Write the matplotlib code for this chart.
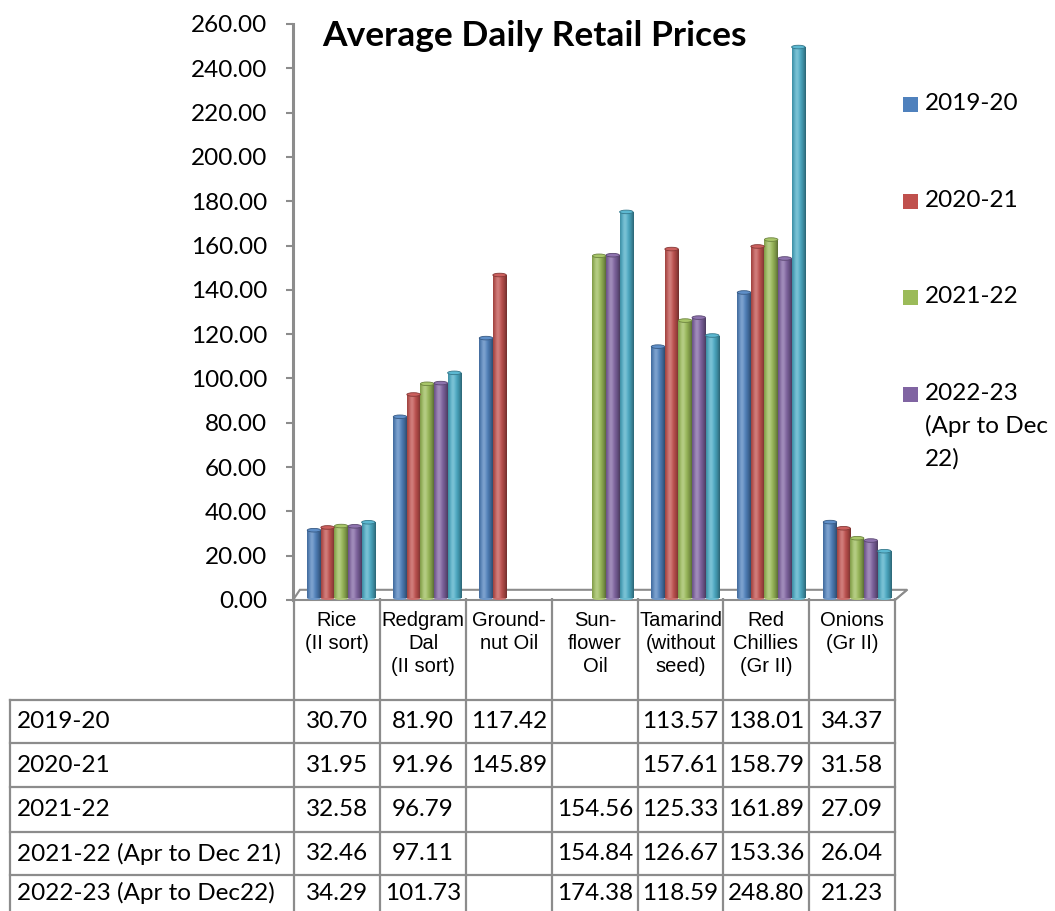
import numpy as np
import matplotlib
matplotlib.use("Agg")
import matplotlib.pyplot as plt
from matplotlib.patches import Rectangle, Ellipse, Polygon
from matplotlib.colors import to_rgb

# ---------------- data ----------------
categories = ["Rice\n(II sort)", "Redgram\nDal\n(II sort)", "Ground-\nnut Oil",
              "Sun-\nflower\nOil", "Tamarind\n(without\nseed)", "Red\nChillies\n(Gr II)",
              "Onions\n(Gr II)"]
series_names = ["2019-20", "2020-21", "2021-22", "2021-22 (Apr to Dec 21)",
                "2022-23 (Apr to Dec22)"]
s2019 = [30.70, 81.90, 117.42, None, 113.57, 138.01, 34.37]
s2020 = [31.95, 91.96, 145.89, None, 157.61, 158.79, 31.58]
s2021 = [32.58, 96.79, None, 154.56, 125.33, 161.89, 27.09]
s2021_apr = [32.46, 97.11, None, 154.84, 126.67, 153.36, 26.04]
s2022_apr = [34.29, 101.73, None, 174.38, 118.59, 248.80, 21.23]
series = [s2019, s2020, s2021, s2021_apr, s2022_apr]
colors = ["#4F81BD", "#C0504D", "#9BBB59", "#8064A2", "#4BACC6"]
legend_labels = ["2019-20", "2020-21", "2021-22", "2022-23\n(Apr to Dec\n22)"]
yticks = np.arange(0, 261, 20)

FONT = ["Lato", "DejaVu Sans"]
NARROW = ["Liberation Sans Narrow", "Liberation Sans", "DejaVu Sans"]

W, H = 1055, 911
fig = plt.figure(figsize=(W / 100, H / 100), dpi=100)
fig.patch.set_facecolor("white")

# main chart axes (pixel geometry)
x_left, x_right, y_top, y_zero = 293, 895, 24, 600
ax = fig.add_axes([x_left / W, (H - y_zero) / H, (x_right - x_left) / W, (y_zero - y_top) / H])
ax.set_facecolor("none")

n = len(categories)
x = np.arange(n)
bw = 0.158
offset = 0.06
px_per_unit = (y_zero - y_top) / 260.0


def cyl_cmap(c):
    base = np.array(to_rgb(c))
    t = np.linspace(0, 1, 64)
    prof = np.exp(-((t - 0.35) / 0.2) ** 2)
    edge = np.clip(1 - ((t - 0.4) / 0.6) ** 2, 0, 1)
    cols = []
    for p, e in zip(prof, edge):
        col = base * (0.58 + 0.42 * e)
        col = col + (1 - col) * 0.26 * p
        cols.append(np.clip(col, 0, 1))
    return np.array(cols)


# floor
floor = Polygon([(-0.5, 0), (6.5, 0), (6.64, 4.6), (-0.42, 4.6)], closed=True,
                facecolor="white", edgecolor="#8c8c8c", lw=1.5, zorder=1, clip_on=False)
ax.add_patch(floor)

for i, (vals, c) in enumerate(zip(series, colors)):
    grad = cyl_cmap(c)[None, :, :]
    top_col = np.clip(np.array(to_rgb(c)) * 0.95 + 0.08, 0, 1)
    for j, v in enumerate(vals):
        if v is None:
            continue
        xc = x[j] + offset + (i - 2) * bw
        bars = ax.bar(xc, v, width=bw * 0.99, bottom=0.8, color=c, zorder=3,
                      edgecolor="none")
        rect = bars[0]
        im = ax.imshow(grad, extent=(xc - bw * 0.495, xc + bw * 0.495, 0.8, v + 0.8),
                       aspect="auto", zorder=3.1, interpolation="bilinear")
        im.set_clip_path(rect)
        eh = 3.6 / px_per_unit
        ax.add_patch(Ellipse((xc, 0.8), bw * 0.99, eh, facecolor=grad[0, 30],
                             edgecolor="none", zorder=3.0))
        ax.add_patch(Ellipse((xc, v + 0.8), bw * 0.99, eh, facecolor=top_col,
                             edgecolor=np.array(to_rgb(c)) * 0.7, lw=0.6, zorder=3.3))

ax.set_xlim(-0.5, n - 0.5)
ax.set_ylim(0, 260)
ax.set_yticks(yticks)
ax.set_yticklabels([f"{t:.2f}" for t in yticks], fontfamily=FONT, fontsize=17.5)
ax.set_xticks([])
for s in ["top", "right", "bottom"]:
    ax.spines[s].set_visible(False)
ax.spines["left"].set_color("#8c8c8c")
ax.spines["left"].set_linewidth(2.2)
ax.tick_params(axis="y", direction="out", length=5, width=1.5, color="#8c8c8c",
               pad=13.5)

# overlay axes in pixel coords for title, legend, table
ov = fig.add_axes([0, 0, 1, 1])
ov.set_xlim(0, W)
ov.set_ylim(H, 0)
ov.axis("off")
ov.patch.set_alpha(0)

ov.text(534, 36, "Average Daily Retail Prices", fontfamily=FONT, fontweight="bold",
        fontsize=25.5, ha="center", va="center")

# legend
leg_y = [105, 202, 298, 395]
for lab, c, yy in zip(legend_labels, colors, leg_y):
    ov.add_patch(Rectangle((903, yy - 8), 15, 15, facecolor=c, edgecolor="none"))
    ov.text(925, yy - 12, lab, fontfamily=FONT, fontsize=17.5, ha="left", va="top",
            linespacing=1.62)

# table
lc = "#8c8c8c"
col_x = [294, 380, 466, 552, 638, 723, 809, 895]
row_y = [700, 743, 787, 832, 875, 911]
for xx in col_x:
    ov.plot([xx, xx], [598, 911], color=lc, lw=1.6, solid_capstyle="butt")
ov.plot([10, 10], [700, 911], color=lc, lw=1.6)
for yy in row_y[:-1]:
    ov.plot([10, 895], [yy, yy], color=lc, lw=1.6)
ov.plot([895, 907], [600, 590], color=lc, lw=1.2)

for j, lab in enumerate(categories):
    cx = (col_x[j] + col_x[j + 1]) / 2
    ov.text(cx, 611, lab, fontfamily=NARROW, fontsize=14.5, ha="center", va="top",
            linespacing=1.25)

for i, (name, vals) in enumerate(zip(series_names, series)):
    cy = (row_y[i] + row_y[i + 1]) / 2
    ov.text(17, cy, name, fontfamily=FONT, fontsize=17.5, ha="left", va="center")
    for j, v in enumerate(vals):
        if v is None:
            continue
        cx = (col_x[j] + col_x[j + 1]) / 2
        ov.text(cx, cy, f"{v:.2f}", fontfamily=FONT, fontsize=17.5, ha="center",
                va="center")

fig.savefig("out.png", dpi=100, facecolor="white")
